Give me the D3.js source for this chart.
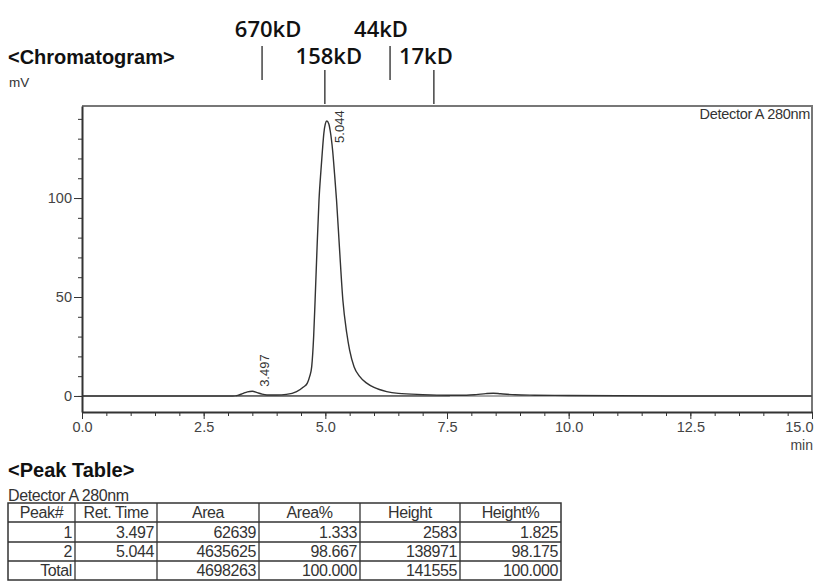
<!DOCTYPE html>
<html>
<head>
<meta charset="utf-8">
<script src="https://cdn.jsdelivr.net/npm/d3@7"></script>
<style>
body { margin: 0; background: #fff; }
text { font-family: "Liberation Sans", Arial, sans-serif; }
</style>
</head>
<body>
<div class="chart"></div>
<script>
// chromatogram trace (min, mV)
var retTime = [0, 3.1, 3.2, 3.3, 3.4, 3.5, 3.6, 3.7, 3.8, 4.0, 4.2, 4.41, 4.55, 4.63, 4.68, 4.72, 4.76, 4.79, 4.83, 4.87,
    4.91, 4.94, 4.97, 5.0, 5.03, 5.07, 5.10, 5.15, 5.19, 5.23, 5.29, 5.36, 5.44, 5.5, 5.59, 5.7, 5.85, 6.0, 6.26, 6.5,
    7.0, 7.5, 7.9, 8.1, 8.3, 8.45, 8.6, 8.9, 9.3, 10, 11, 12, 15];
var signal = [0, 0, 0.3, 1.2, 2.1, 2.4, 1.7, 0.9, 0.5, 0.5, 0.8, 2.2, 4.5, 6.5, 10, 14.8, 30, 48.5, 75, 99,
    114, 124, 132.8, 137.5, 138.9, 137.5, 134, 124, 112, 99, 75, 48.5, 31.8, 23, 14.8, 10, 6.5, 4.3, 2.2, 1.3,
    0.7, 0.4, 0.4, 0.7, 1.2, 1.4, 1.1, 0.6, 0.4, 0.25, 0.1, 0, 0];
var integrationBaseline = [3.16, 7.56];

// molecular weight standards
var markerLabels = ["670kD", "158kD", "44kD", "17kD"];
var markerTimes = [3.70, 4.99, 6.33, 7.23];

// axis ticks
var xMajor = [0, 2.5, 5, 7.5, 10, 12.5, 15];
var xMinor = d3.range(0, 15.01, 0.5);
var yMajor = [0, 50, 100];
var yMinor = d3.range(-0, 141, 10);

// peak table
var tableHeader = ["Peak#", "Ret. Time", "Area", "Area%", "Height", "Height%"];
var peakNo = ["1", "2", "Total"];
var peakRetTime = ["3.497", "5.044", ""];
var peakArea = ["62639", "4635625", "4698263"];
var peakAreaPct = ["1.333", "98.667", "100.000"];
var peakHeight = ["2583", "138971", "141555"];
var peakHeightPct = ["1.825", "98.175", "100.000"];

var svg = d3.select(".chart").append("svg")
    .attr("width", 816)
    .attr("height", 587);

var x = d3.scaleLinear().domain([0, 15]).range([82, 812]);
var y = d3.scaleLinear().domain([-8.1, 146.5]).range([412, 106]);

// titles
svg.append("text").attr("x", 8).attr("y", 64)
    .style("font-size", "20px").style("font-weight", "bold").attr("fill", "#111")
    .text("<Chromatogram>");
svg.append("text").attr("x", 9).attr("y", 87)
    .style("font-size", "13.5px").attr("fill", "#333")
    .text("mV");

// frame top / right
svg.append("path")
    .attr("d", "M" + x(0) + "," + y.range()[1] + "H" + x(15) + "V" + y.range()[0])
    .attr("fill", "none").attr("stroke", "#777").attr("stroke-width", 2);

// zero line across the whole run
svg.append("line")
    .attr("x1", x(0)).attr("x2", x(15)).attr("y1", y(0)).attr("y2", y(0))
    .attr("stroke", "#aaa").attr("stroke-width", 2);
svg.append("line")
    .attr("x1", x(integrationBaseline[0])).attr("x2", x(integrationBaseline[1]))
    .attr("y1", y(0)).attr("y2", y(0))
    .attr("stroke", "#555").attr("stroke-width", 1.3);

// X axis (minor then major)
svg.append("g").attr("transform", "translate(0," + y.range()[0] + ")")
    .call(d3.axisBottom(x).tickValues(xMinor).tickSize(4).tickSizeOuter(0).tickFormat(""))
    .attr("color", "#333")
    .call(function(g) { g.select(".domain").remove(); });
svg.append("g").attr("class", "x axis").attr("transform", "translate(0," + y.range()[0] + ")")
    .call(d3.axisBottom(x).tickValues(xMajor).tickSize(7).tickSizeOuter(0).tickPadding(3).tickFormat(d3.format(".1f")))
    .attr("color", "#333")
    .call(function(g) {
        g.select(".domain").attr("stroke-width", 2);
        g.selectAll("text").style("font-size", "14.5px").attr("fill", "#444");
        // last label sits flush with the right edge
        g.selectAll(".tick").filter(function(d) { return d === 15; })
            .select("text").attr("text-anchor", "end").attr("dx", 1);
    });
svg.append("text").attr("x", 813).attr("y", 450).attr("text-anchor", "end")
    .style("font-size", "14px").attr("fill", "#444").text("min");

// Y axis
svg.append("g").attr("transform", "translate(" + x(0) + ",0)")
    .call(d3.axisLeft(y).tickValues(yMinor).tickSize(4).tickSizeOuter(0).tickFormat(""))
    .attr("color", "#333")
    .call(function(g) { g.select(".domain").remove(); });
svg.append("g").attr("class", "y axis").attr("transform", "translate(" + x(0) + ",0)")
    .call(d3.axisLeft(y).tickValues(yMajor).tickSize(8).tickSizeOuter(0).tickPadding(2))
    .attr("color", "#333")
    .call(function(g) {
        g.select(".domain").attr("stroke-width", 2);
        g.selectAll("text").style("font-size", "14.5px").attr("fill", "#444");
    });

// trace
var trace = retTime.map(function(t, i) { return {t: t, v: signal[i]}; });
var valueline = d3.line()
    .x(function(d) { return x(d.t); })
    .y(function(d) { return y(d.v); })
    .curve(d3.curveMonotoneX);
svg.append("path").attr("class", "line")
    .attr("d", valueline(trace))
    .attr("fill", "none").attr("stroke", "#333").attr("stroke-width", 1.4);

svg.append("text").attr("x", 810).attr("y", 106).attr("dy", "0.9em")
    .attr("text-anchor", "end")
    .style("font-size", "14.5px").style("letter-spacing", "-0.3px").attr("fill", "#333")
    .text("Detector A 280nm");

// peak labels
var labelDy = [-4, 22];
peakRetTime.slice(0, 2).forEach(function(t, i) {
    var px = x(+t) + 17, py = y(+peakHeight[i] / 1000) + labelDy[i];
    svg.append("text")
        .attr("transform", "translate(" + px + "," + py + ") rotate(-90)")
        .style("font-size", "13px").attr("fill", "#333")
        .text(t);
});

// MW markers
var markerHigh = [true, false, true, false];
var markerDx = [6, 4, -9, -8];
markerLabels.forEach(function(lab, i) {
    var mx = x(markerTimes[i]);
    var top = markerHigh[i] ? 46 : 70;
    svg.append("line")
        .attr("x1", mx).attr("x2", mx).attr("y1", top).attr("y2", top + 34)
        .attr("stroke", "#444").attr("stroke-width", 1.5);
    svg.append("text")
        .attr("x", mx + markerDx[i]).attr("y", markerHigh[i] ? 37 : 64)
        .attr("text-anchor", "middle")
        .style("font-family", "'Open Sans', 'Noto Sans', sans-serif")
        .style("font-size", "22px").style("font-weight", 600).attr("fill", "#111")
        .text(lab);
});

// peak table
svg.append("text").attr("x", 8).attr("y", 477)
    .style("font-size", "20px").style("font-weight", "bold").attr("fill", "#111")
    .text("<Peak Table>");
svg.append("text").attr("x", 8).attr("y", 501)
    .style("font-size", "16px").style("letter-spacing", "-0.4px").attr("fill", "#333")
    .text("Detector A 280nm");

var colX = [8, 75, 157, 259, 360, 460, 561];
var rowY = [503, 522, 542, 561, 580];
var columns = [peakNo, peakRetTime, peakArea, peakAreaPct, peakHeight, peakHeightPct];
var tbl = svg.append("g").attr("class", "peaktable");

tbl.append("rect").attr("x", colX[0]).attr("y", rowY[0])
    .attr("width", colX[6] - colX[0]).attr("height", rowY[4] - rowY[0])
    .attr("fill", "none").attr("stroke", "#333").attr("stroke-width", 1.5);
colX.slice(1, 6).forEach(function(cx) {
    tbl.append("line").attr("x1", cx).attr("x2", cx).attr("y1", rowY[0]).attr("y2", rowY[4])
        .attr("stroke", "#333").attr("stroke-width", 1.3);
});
rowY.slice(1, 4).forEach(function(ry) {
    tbl.append("line").attr("x1", colX[0]).attr("x2", colX[6]).attr("y1", ry).attr("y2", ry)
        .attr("stroke", "#333").attr("stroke-width", 1.3);
});

tableHeader.forEach(function(h, c) {
    tbl.append("text")
        .attr("x", (colX[c] + colX[c + 1]) / 2).attr("y", rowY[1] - 4)
        .attr("text-anchor", "middle")
        .style("font-size", "16px").style("letter-spacing", "-0.4px").attr("fill", "#333")
        .text(h);
});
columns.forEach(function(col, c) {
    col.forEach(function(v, r) {
        tbl.append("text")
            .attr("x", colX[c + 1] - 3).attr("y", rowY[r + 2] - 4)
            .attr("text-anchor", "end")
            .style("font-size", "16px").style("letter-spacing", "-0.4px").attr("fill", "#333")
            .text(v);
    });
});
</script>
</body>
</html>
